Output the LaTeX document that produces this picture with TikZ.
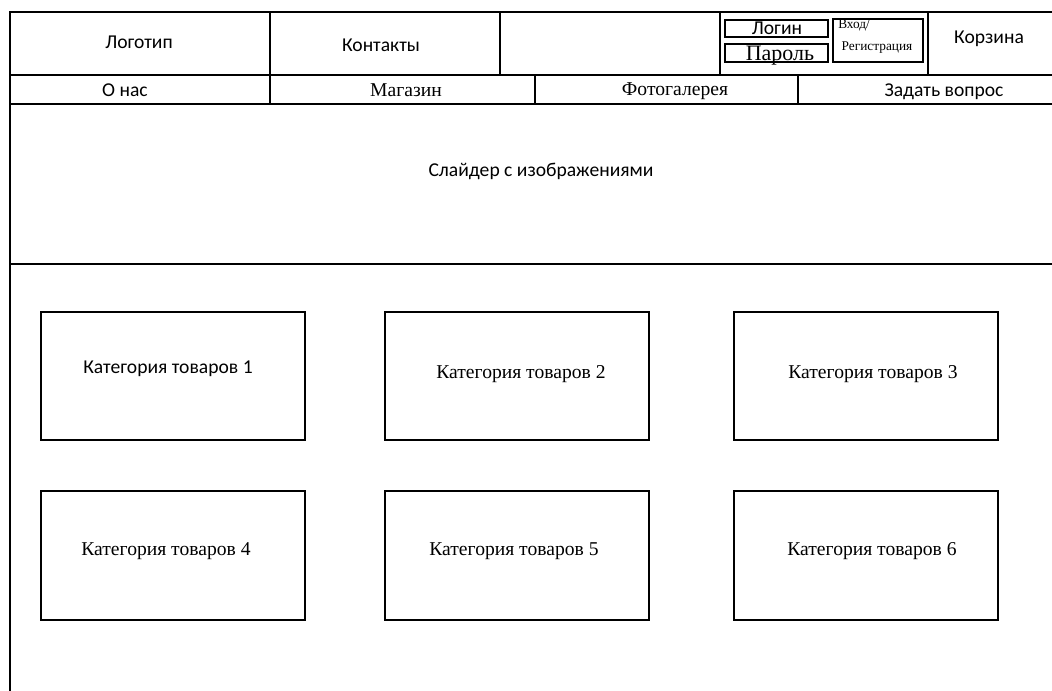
\documentclass[tikz,border=0pt]{standalone}
\usepackage{fontspec}
\setmainfont{Liberation Serif}
\newfontfamily\calfont{Carlito}
\tikzset{
	frame/.style={line width=1.3pt},
	sanslabel/.style={font=\calfont\fontsize{14.7}{16}\selectfont, inner sep=0pt},
	seriflabel/.style={font=\fontsize{14.7}{16}\selectfont, inner sep=0pt},
	smalllabel/.style={font=\fontsize{10}{11}\selectfont, inner sep=0pt}
}

\begin{document}
\begin{tikzpicture}[x=0.75pt, y=-0.75pt]
		%%%%% START %%%%%
		\useasboundingbox (0, 0) rectangle (1052, 691);
		
		% outer frame and rows
		\draw[frame] (1052, 12) -- (10, 12) -- (10, 691);
		\draw[frame] (10, 75) -- (1052, 75);
		\draw[frame] (10, 104) -- (1052, 104);
		\draw[frame] (10, 264) -- (1052, 264);
		
		% header
		\draw[frame] (270, 12) -- (270, 75);
		\draw[frame] (500, 12) -- (500, 75);
		\draw[frame] (720, 12) -- (720, 75);
		\draw[frame] (928, 12) -- (928, 75);
		
		\node[sanslabel] (logo) at (139, 42) {Логотип};
		\node[sanslabel] (contacts) at (381, 45) {Контакты};
		\node[sanslabel] (cart) at (989, 39) {Корзина};
		
		\draw[frame] (725, 20) rectangle (828, 37);
		\node[sanslabel] (login) at (777, 28) {Логин};
		\draw[frame] (725, 44) rectangle (828, 62);
		\node[seriflabel, font=\fontsize{16.5}{18}\selectfont] (password) at (780, 56) {Пароль};
		\draw[frame] (833, 19) rectangle (923, 62);
		\node[smalllabel, anchor=west] (enter) at (838, 25) {Вход/};
		\node[smalllabel] (register) at (877, 48) {Регистрация};
		
		% navigation
		\draw[frame] (270, 75) -- (270, 104);
		\draw[frame] (535, 75) -- (535, 104);
		\draw[frame] (798, 75) -- (798, 104);
		
		\node[sanslabel] (about) at (125, 90) {О нас};
		\node[seriflabel] (shop) at (406, 90) {Магазин};
		\node[seriflabel] (gallery) at (675, 91) {Фотогалерея};
		\node[sanslabel] (question) at (944, 92) {Задать вопрос};
		
		% slider
		\node[sanslabel] (slider) at (541, 171) {Слайдер с изображениями};
		
		% categories
		\draw[frame] (41, 312) rectangle (305, 440);
		\node[sanslabel] (cat1) at (168, 369) {Категория товаров 1};
		\draw[frame] (385, 312) rectangle (649, 440);
		\node[seriflabel] (cat2) at (521, 374) {Категория товаров 2};
		\draw[frame] (734, 312) rectangle (998, 440);
		\node[seriflabel] (cat3) at (873, 374) {Категория товаров 3};
		
		\draw[frame] (41, 491) rectangle (305, 620);
		\node[seriflabel] (cat4) at (166, 551) {Категория товаров 4};
		\draw[frame] (385, 491) rectangle (649, 620);
		\node[seriflabel] (cat5) at (514, 551) {Категория товаров 5};
		\draw[frame] (734, 491) rectangle (998, 620);
		\node[seriflabel] (cat6) at (872, 551) {Категория товаров 6};
		%%%%% END %%%%%
	\end{tikzpicture}
\end{document}
